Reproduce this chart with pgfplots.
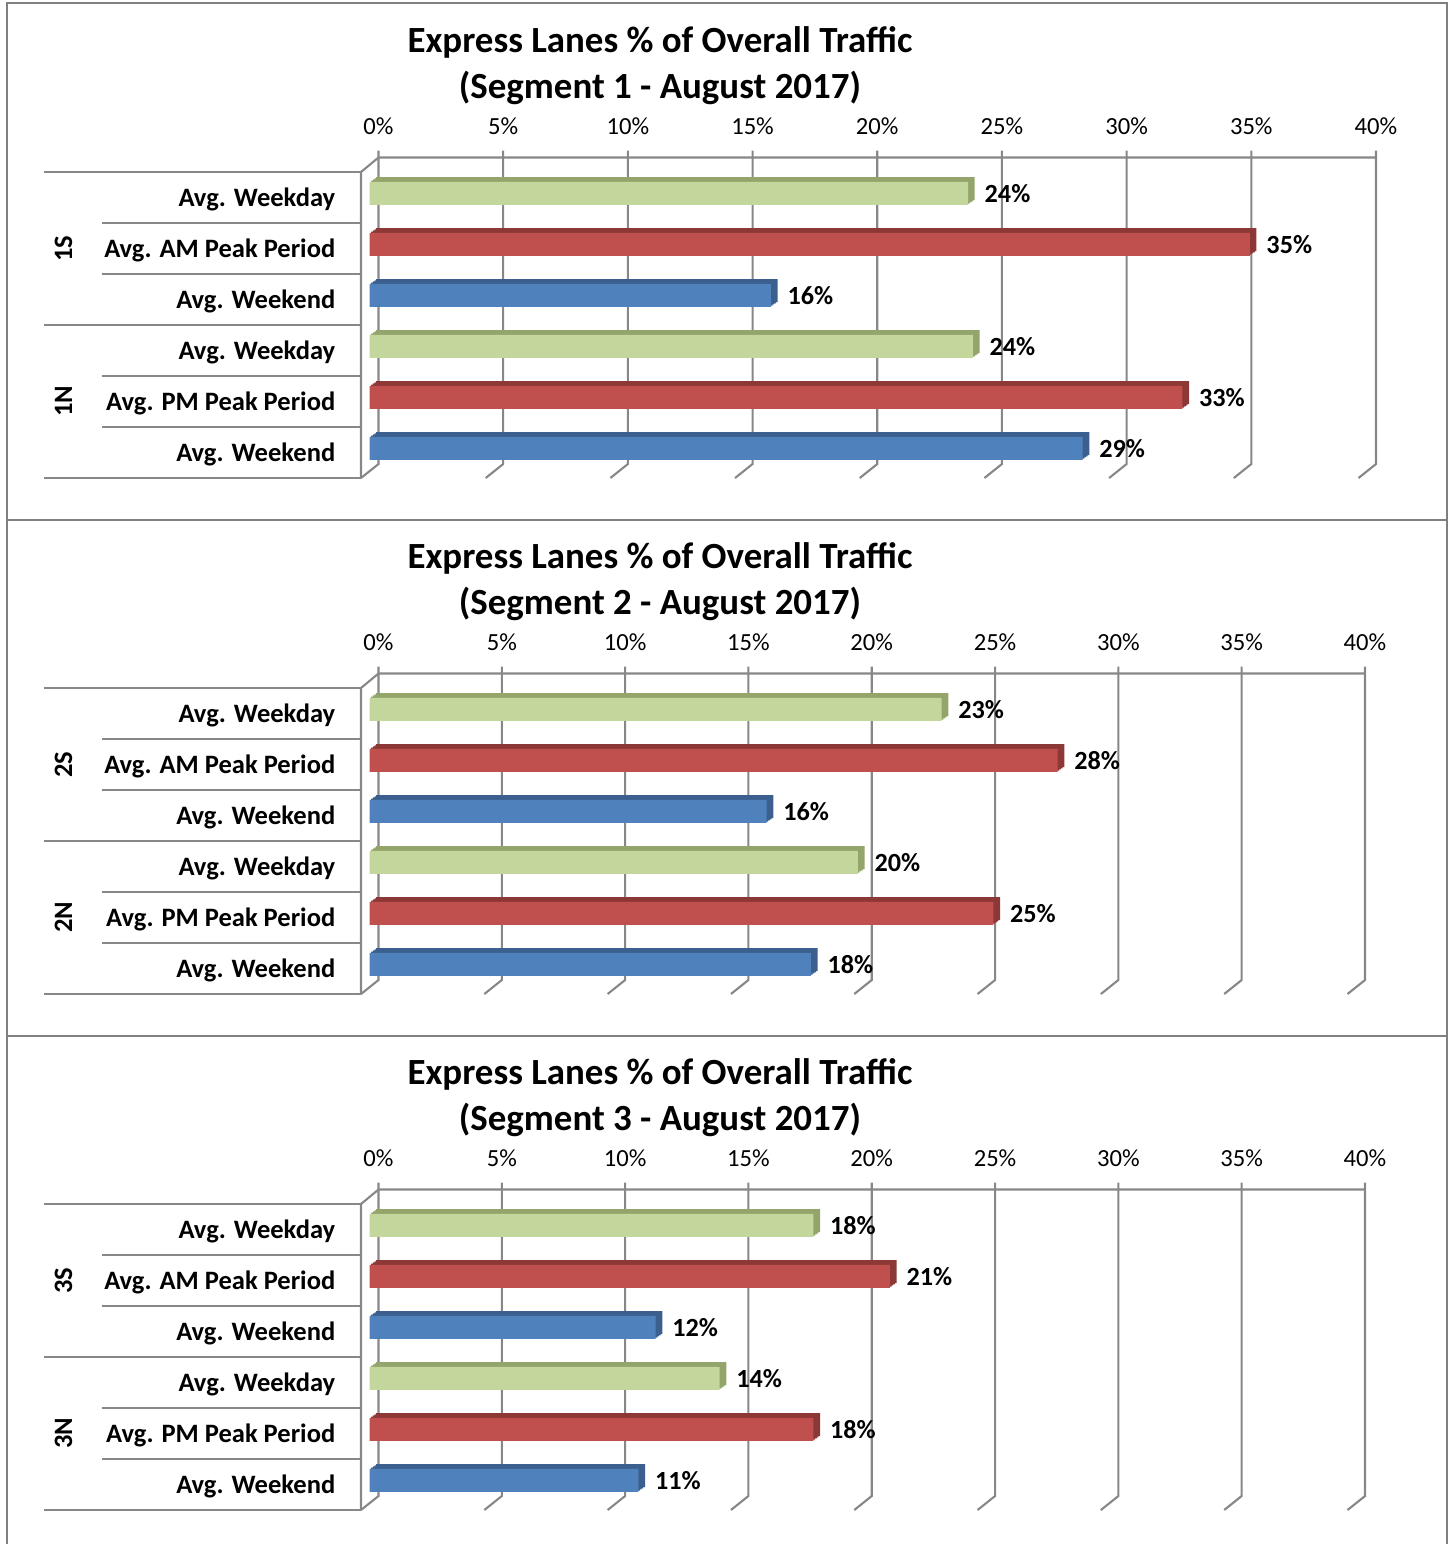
\documentclass[border=0pt]{standalone}
\usepackage{fontspec}
\setmainfont{Carlito}
\usepackage{pgfplots}
\pgfplotsset{compat=1.18}
\usepackage{pgfplotstable}

\definecolor{gF}{HTML}{C3D69B}
\definecolor{gD}{HTML}{93A56A}
\definecolor{rF}{HTML}{C0504D}
\definecolor{rD}{HTML}{8C3836}
\definecolor{bF}{HTML}{4F81BD}
\definecolor{bD}{HTML}{3B5F8E}
\definecolor{gridc}{HTML}{878787}
\definecolor{framec}{HTML}{808080}

% one row per bar: y = row (top to bottom), g/r/b = weekday, peak, weekend
\pgfplotstableread{
y g r b
0 24.0 nan nan
1 nan 35.3 nan
2 nan nan 16.1
3 24.2 nan nan
4 nan 32.6 nan
5 nan nan 28.6
}\segA
\pgfplotstableread{
y g r b
0 23.2 nan nan
1 nan 27.9 nan
2 nan nan 16.1
3 19.8 nan nan
4 nan 25.3 nan
5 nan nan 17.9
}\segB
\pgfplotstableread{
y g r b
0 18.0 nan nan
1 nan 21.1 nan
2 nan nan 11.6
3 14.2 nan nan
4 nan 18.0 nan
5 nan nan 10.9
}\segC

\tikzset{
  gridl/.style={draw=gridc, line width=0.6pt},
  catl/.style={draw=gridc, line width=0.6pt},
}
\pgfplotsset{
  seg/.style={
    scale only axis, height=30.6mm,
    xmin=0, xmax=40, ymin=-0.5, ymax=5.5, y dir=reverse,
    clip=false,
    axis line style={draw=none},
    major tick length=0pt, tick style={draw=none},
    xtick={0,5,...,40},
    xticklabels={0\%,5\%,10\%,15\%,20\%,25\%,30\%,35\%,40\%},
    xticklabel pos=upper,
    xticklabel style={anchor=center, xshift=1.75mm, yshift=4.6mm,
      font=\fontsize{7.0}{8}\selectfont},
    ytick={0,...,5},
    yticklabels={Avg. Weekday, Avg. AM Peak Period, Avg. Weekend,
                 Avg. Weekday, Avg. PM Peak Period, Avg. Weekend},
    yticklabel style={anchor=east, inner sep=0pt, xshift=-2.5mm, yshift=-0.2mm,
      font=\fontsize{7.55}{9}\selectfont\bfseries},
    xbar, bar width=2.3mm,
    every axis plot post/.append style={bar shift=0pt, draw=none},
    point meta=x,
    /pgf/number format/assume math mode=true,
    every node near coord/.append style={anchor=west, inner sep=0pt,
      xshift=1.6mm, text=black, font=\fontsize{7.45}{9}\selectfont\bfseries},
  },
}

\newcommand\lbl{\pgfmathprintnumber[fixed,precision=0]{\pgfplotspointmeta}\%}

% #1 top of front plane (mm), #2 width (mm), #3 table, #4 segment number
\newcommand\panel[4]{%
  \node[align=center, font=\fontsize{10.5}{13.2}\selectfont\bfseries]
    at (66.0mm,{-(#1-10.65)*1mm}) {Express Lanes \% of Overall Traffic\\(Segment #4 - August 2017)};
  \begin{axis}[seg, width=#2mm, at={(36.1mm,-#1mm)}, anchor=north west]
    % back wall grid and floor edges
    \pgfplotsinvokeforeach{0,5,...,40}{
      \draw[gridl] ([xshift=1.75mm,yshift=2.15mm]axis cs:##1,-0.5)
        -- ([xshift=1.75mm,yshift=1.4mm]axis cs:##1,5.5) -- (axis cs:##1,5.5);
    }
    \draw[gridl] ([xshift=1.75mm,yshift=1.45mm]axis cs:40,-0.5)
      -- ([xshift=1.75mm,yshift=1.45mm]axis cs:0,-0.5)
      -- (axis cs:0,-0.5) -- (axis cs:0,5.5);
    % category lines
    \draw[catl] ([xshift=-31.7mm]axis cs:0,-0.5) -- (axis cs:0,-0.5);
    \draw[catl] ([xshift=-31.7mm]axis cs:0,2.5) -- (axis cs:0,2.5);
    \draw[catl] ([xshift=-31.7mm]axis cs:0,5.5) -- (axis cs:0,5.5);
    \draw[catl] ([xshift=-25.9mm]axis cs:0,0.5) -- (axis cs:0,0.5);
    \draw[catl] ([xshift=-25.9mm]axis cs:0,1.5) -- (axis cs:0,1.5);
    \draw[catl] ([xshift=-25.9mm]axis cs:0,3.5) -- (axis cs:0,3.5);
    \draw[catl] ([xshift=-25.9mm]axis cs:0,4.5) -- (axis cs:0,4.5);
    \node[rotate=90, font=\fontsize{7.55}{9}\selectfont\bfseries]
      at ([xshift=-29.75mm]axis cs:0,1) {#4S};
    \node[rotate=90, font=\fontsize{7.55}{9}\selectfont\bfseries]
      at ([xshift=-29.75mm]axis cs:0,4) {#4N};
    % bar depth (darker copies behind)
    \pgfplotsinvokeforeach{1,0.75,0.5,0.25}{
      \addplot[fill=gD, xshift=0.85mm+##1*0.67mm, yshift=0.42mm+##1*0.47mm] table[x=g,y=y]{#3};
      \addplot[fill=rD, xshift=0.85mm+##1*0.67mm, yshift=0.42mm+##1*0.47mm] table[x=r,y=y]{#3};
      \addplot[fill=bD, xshift=0.85mm+##1*0.67mm, yshift=0.42mm+##1*0.47mm] table[x=b,y=y]{#3};
    }
    % bar fronts with labels
    \addplot[fill=gF, xshift=0.85mm, yshift=0.42mm, nodes near coords=\lbl] table[x=g,y=y]{#3};
    \addplot[fill=rF, xshift=0.85mm, yshift=0.42mm, nodes near coords=\lbl] table[x=r,y=y]{#3};
    \addplot[fill=bF, xshift=0.85mm, yshift=0.42mm, nodes near coords=\lbl] table[x=b,y=y]{#3};
  \end{axis}%
}

\begin{document}
\begin{tikzpicture}
\path[use as bounding box] (0,0) rectangle (145.2mm,-154.4mm);
\draw[framec, line width=0.7pt] (0.7mm,-154.4mm) -- (0.7mm,-0.3mm) -- (144.7mm,-0.3mm) -- (144.7mm,-154.4mm);
\draw[framec, line width=0.7pt] (0.7mm,-52.0mm) -- (144.7mm,-52.0mm);
\draw[framec, line width=0.7pt] (0.7mm,-103.6mm) -- (144.7mm,-103.6mm);
\panel{17.2}{99.75}{\segA}{1}
\panel{68.8}{98.65}{\segB}{2}
\panel{120.4}{98.65}{\segC}{3}
\end{tikzpicture}
\end{document}
